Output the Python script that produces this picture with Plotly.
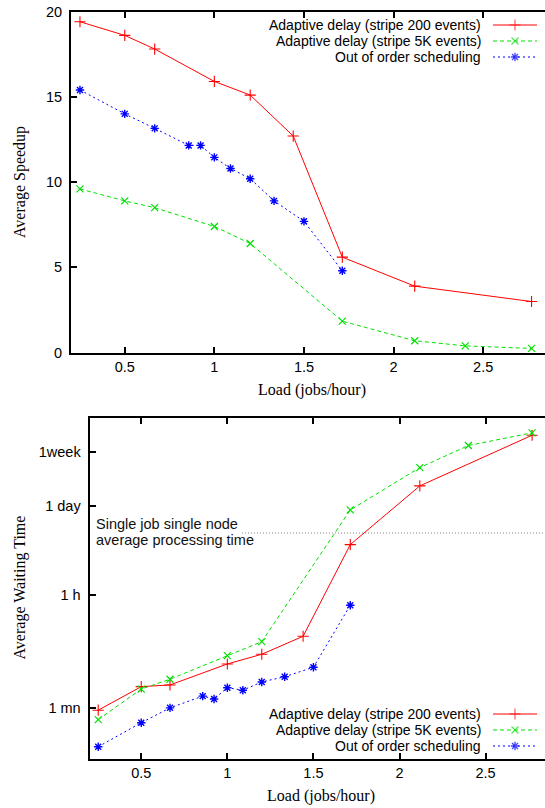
import plotly.graph_objects as go

# ---- data -------------------------------------------------------------
# load (jobs/hour) for each configuration
load_stripe200 = [0.25, 0.5, 0.667, 1.0, 1.2, 1.44, 1.714, 2.118, 2.77]
load_stripe5k = [0.25, 0.5, 0.667, 1.0, 1.2, 1.714, 2.118, 2.4, 2.77]
load_ooo = [0.25, 0.5, 0.667, 0.857, 0.923, 1.0, 1.09, 1.2, 1.333, 1.5, 1.714]

# average speedup
speedup_stripe200 = [19.4, 18.6, 17.8, 15.9, 15.1, 12.7, 5.6, 3.9, 3.0]
speedup_stripe5k = [9.6, 8.9, 8.5, 7.4, 6.4, 1.85, 0.7, 0.4, 0.25]
speedup_ooo = [15.4, 14.0, 13.15, 12.15, 12.15, 11.45, 10.8, 10.2, 8.9, 7.7, 4.8]

# average waiting time (seconds)
wait_stripe200 = [56, 131, 139, 296, 420, 803, 21800, 180700, 1120000]
wait_stripe5k = [40, 120, 171, 399, 661, 76000, 349000, 773000, 1220000]
wait_ooo = [15, 35.7, 61, 93, 84, 126, 115, 155, 187, 263, 2455]

# single job on a single node, average processing time (seconds)
single_job_time = 33100

series_names = [
    "Adaptive delay (stripe 200 events)",
    "Adaptive delay (stripe 5K events)",
    "Out of order scheduling",
]
x_ticks = [0.5, 1, 1.5, 2, 2.5]
x_tick_text = ["0.5", "1", "1.5", "2", "2.5"]
speed_ticks = [0, 5, 10, 15, 20]
wait_ticks = [60, 3600, 86400, 604800]
wait_tick_text = ["1 mn", "1 h", "1 day", "1week"]

# ---- styling ----------------------------------------------------------
W, H = 545, 808
SANS = "Liberation Sans, Arial, sans-serif"
SERIF = "Liberation Serif, Times New Roman, serif"
FS = 14.5

styles = [
    dict(color="#ff0000", dash="solid", symbol="cross-thin-open", size=8, lw=1.1),
    dict(color="#00e000", dash="4px,3px", symbol="x-thin-open", size=7, lw=1.2),
    dict(color="#0000ff", dash="2px,3px", symbol="asterisk-open", size=7, lw=1.4),
]


def px_x(p):
    return p / W


def px_y(p):
    return 1 - p / H


fig = go.Figure()

top_sets = [(load_stripe200, speedup_stripe200), (load_stripe5k, speedup_stripe5k), (load_ooo, speedup_ooo)]
bot_sets = [(load_stripe200, wait_stripe200), (load_stripe5k, wait_stripe5k), (load_ooo, wait_ooo)]

for (xs, ys), st, name in zip(top_sets, styles, series_names):
    fig.add_trace(go.Scatter(
        x=xs, y=ys, mode="lines+markers", name=name, showlegend=False,
        line=dict(color=st["color"], width=1, dash=st["dash"]),
        marker=dict(symbol=st["symbol"], size=st["size"], color=st["color"],
                    line=dict(color=st["color"], width=st["lw"])),
        xaxis="x", yaxis="y"))

for (xs, ys), st, name in zip(bot_sets, styles, series_names):
    fig.add_trace(go.Scatter(
        x=xs, y=ys, mode="lines+markers", name=name, showlegend=False,
        line=dict(color=st["color"], width=1, dash=st["dash"]),
        marker=dict(symbol=st["symbol"], size=st["size"], color=st["color"],
                    line=dict(color=st["color"], width=st["lw"])),
        xaxis="x2", yaxis="y2"))

# reference level: single job processing time
fig.add_trace(go.Scatter(
    x=[1.085, 2.845], y=[single_job_time, single_job_time], mode="lines",
    showlegend=False, line=dict(color="#888888", width=1, dash="1px,2px"),
    xaxis="x2", yaxis="y2", hoverinfo="skip"))

# ---- key boxes (symbol to the right of the label) ---------------------
key_rows_top = [25, 41, 57]
key_rows_bot = [714, 730, 746]
key_x0, key_xm, key_x1, key_text_right = 493, 515, 537, 483

annotations = []
for rows in (key_rows_top, key_rows_bot):
    for yrow, st, name in zip(rows, styles, series_names):
        fig.add_trace(go.Scatter(
            x=[key_x0, key_xm, key_x1], y=[yrow, yrow, yrow], mode="lines+markers",
            showlegend=False, hoverinfo="skip",
            line=dict(color=st["color"], width=1, dash=st["dash"]),
            marker=dict(symbol=st["symbol"], size=[0, st["size"], 0], color=st["color"],
                        line=dict(color=st["color"], width=st["lw"])),
            xaxis="x3", yaxis="y3"))
        annotations.append(dict(
            x=px_x(key_text_right), y=px_y(yrow), xref="paper", yref="paper",
            xanchor="right", yanchor="middle", text=name, showarrow=False,
            font=dict(family=SANS, size=14, color="black")))

# axis titles and the reference-level label
annotations += [
    dict(x=px_x(20), y=px_y(182), xref="paper", yref="paper", text="Average Speedup",
         textangle=-90, xanchor="center", yanchor="middle", showarrow=False,
         font=dict(family=SERIF, size=16, color="black")),
    dict(x=px_x(312), y=px_y(390), xref="paper", yref="paper", text="Load (jobs/hour)",
         xanchor="center", yanchor="middle", showarrow=False,
         font=dict(family=SERIF, size=16, color="black")),
    dict(x=px_x(19.5), y=px_y(588), xref="paper", yref="paper", text="Average Waiting Time",
         textangle=-90, xanchor="center", yanchor="middle", showarrow=False,
         font=dict(family=SERIF, size=16, color="black")),
    dict(x=px_x(321), y=px_y(796), xref="paper", yref="paper", text="Load (jobs/hour)",
         xanchor="center", yanchor="middle", showarrow=False,
         font=dict(family=SERIF, size=16, color="black")),
    dict(x=px_x(94), y=px_y(524), xref="paper", yref="paper", text="Single job single node",
         xanchor="left", yanchor="middle", showarrow=False,
         font=dict(family=SANS, size=FS, color="#111111")),
    dict(x=px_x(94), y=px_y(540), xref="paper", yref="paper", text="average processing time",
         xanchor="left", yanchor="middle", showarrow=False,
         font=dict(family=SANS, size=FS, color="#111111")),
]

axis_common = dict(
    showgrid=False, zeroline=False, showline=True, linecolor="black", linewidth=2,
    ticks="inside", ticklen=6, tickwidth=1.6, tickcolor="black",
    tickfont=dict(family=SANS, size=FS, color="black"), automargin=False,
)

fig.update_layout(
    width=W, height=H,
    margin=dict(l=0, r=0, t=0, b=0),
    paper_bgcolor="white", plot_bgcolor="rgba(0,0,0,0)",
    showlegend=False,
    annotations=annotations,
    xaxis=dict(**axis_common, domain=[px_x(71), 1], range=[0.2, 2.845],
               tickvals=x_ticks, ticktext=x_tick_text, mirror="ticks", anchor="y"),
    yaxis=dict(**axis_common, domain=[px_y(352.7), px_y(11.5)], range=[0, 20],
               tickvals=speed_ticks, anchor="x", ticklabelstandoff=4),
    xaxis2=dict(**axis_common, domain=[px_x(89.6), 1], range=[0.2, 2.845],
                tickvals=x_ticks, ticktext=x_tick_text, mirror="ticks", anchor="y2"),
    yaxis2=dict(**axis_common, domain=[px_y(759), px_y(418.3)], type="log",
                range=[0.985, 6.314], tickvals=wait_ticks, ticktext=wait_tick_text,
                anchor="x2", ticklabelstandoff=4),
    xaxis3=dict(domain=[0, 1], range=[0, W], visible=False, fixedrange=True, anchor="y3"),
    yaxis3=dict(domain=[0, 1], range=[H, 0], visible=False, fixedrange=True, anchor="x3"),
)

fig.write_html("out.html")
